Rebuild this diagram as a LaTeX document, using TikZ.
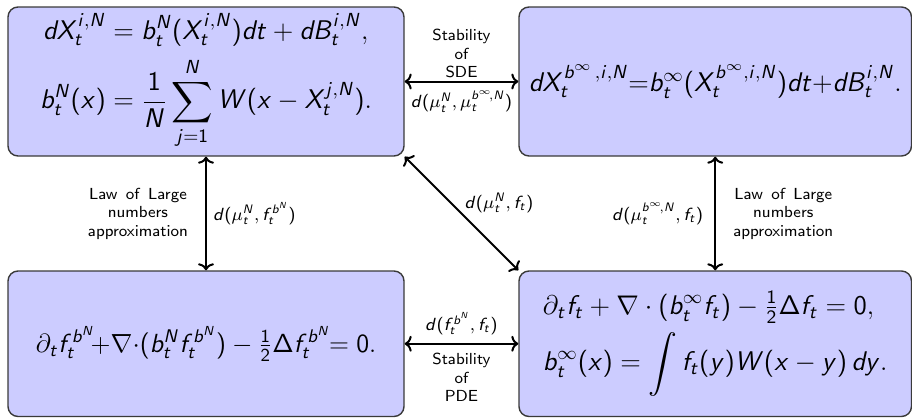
\RequirePackage{fix-cm}
\documentclass[tikz,border=0pt]{standalone}
\usepackage{amsmath}
\usetikzlibrary{arrows.meta}
\SetSymbolFont{operators}{normal}{OT1}{cmss}{m}{n}
\DeclareSymbolFont{sfletters}{OT1}{cmss}{m}{sl}
\makeatletter
\count@=`a
\loop \Umathcode\count@=7 \symsfletters \count@ \advance\count@\@ne \ifnum\count@<`\{ \repeat
\count@=`A
\loop \Umathcode\count@=7 \symsfletters \count@ \advance\count@\@ne \ifnum\count@<`\[ \repeat
\makeatother
\newcommand\sstext{\fontencoding{OT1}\fontfamily{cmss}\fontseries{m}\fontshape{n}\fontsize{8}{9.25}\selectfont}
\newcommand\smath{\fontencoding{OT1}\fontfamily{cmss}\fontseries{m}\fontshape{n}\fontsize{8.8}{10}\selectfont}
\newcommand\widesp{\spaceskip=4.2pt\relax}
\definecolor{boxfill}{HTML}{CCCCFF}
\definecolor{boxline}{HTML}{3A3A3A}
\begin{document}
\begin{tikzpicture}[x=0.5pt,y=-0.5pt,
  box/.style={draw=boxline, line width=0.7pt, fill=boxfill, rounded corners=5pt, inner sep=0pt,
    font=\fontsize{13.5}{16.2}\selectfont},
  conn/.style={line width=1pt, {To[length=3.5pt,width=8pt]}-{To[length=3.5pt,width=8pt]}},
  lbl/.style={font=\sstext, align=center, inner sep=1pt},
  wide/.style={font=\sstext\widesp},
  mlbl/.style={font=\smath, inner sep=1pt},
]
\useasboundingbox (0,0) rectangle (912,418);
\node[box, minimum width=198pt, minimum height=74.5pt] (tl) at (206,81.5)
  {$\begin{aligned}
    dX_t^{i,N} &= b_t^N(X_t^{i,N})dt + dB_t^{i,N},\\
    b_t^N(x) &= \frac{1}{N}\sum_{j=1}^N W(x - X_t^{j,N}).
  \end{aligned}$};
\node[box, minimum width=196.25pt, minimum height=74.5pt] (tr) at (715.25,81.5)
  {$dX_t^{b^\infty\,,i,N}{=}b_t^\infty(X_t^{b^\infty,i,N})dt{+}dB_t^{i,N}.$};
\node[box, minimum width=198pt, minimum height=72.75pt, font=\fontsize{13.1}{15.7}\selectfont] (bl) at (206,343.75)
  {$\partial_t f_t^{b^N}\!{+}\nabla{\cdot}(b_t^N f_t^{b^N}) - \tfrac12\Delta f_t^{b^N}\!\!= 0.$};
\node[box, minimum width=196.25pt, minimum height=72.75pt] (br) at (715.25,343.75)
  {$\begin{aligned}
    &\partial_t f_t + \nabla\cdot(b_t^\infty f_t) - \tfrac12\Delta f_t = 0,\\
    &b_t^\infty(x) = \int f_t(y)W(x-y)\,dy.
  \end{aligned}$};
\draw[conn] (tl.east) --
  node[lbl, above=0.5pt] {Stability\\of\\SDE}
  node[mlbl, below=3pt] {$d(\mu_t^N,\mu_t^{b^\infty\!,N})$} (tr.west);
\draw[conn] (tl.south) --
  node[lbl, wide, left=7.5pt] {Law of Large\\numbers\\approximation}
  node[mlbl, right=2pt] {$d(\mu_t^N, f_t^{b^N})$} (bl.north);
\draw[conn] (tr.south) --
  node[mlbl, left=4.5pt] {$d(\mu_t^{b^\infty\!,N}, f_t)$}
  node[lbl, wide, right=7.5pt] {Law of Large\\numbers\\approximation} (br.north);
\draw[conn] (tl.south east) --
  node[mlbl, pos=0.5, anchor=south west, yshift=-1pt] {$d(\mu_t^N, f_t)$} (br.north west);
\draw[conn] (bl.east) --
  node[mlbl, above=3pt] {$d(f_t^{b^N}, f_t)$}
  node[lbl, below=3.5pt] {Stability\\of\\PDE} (br.west);
\end{tikzpicture}
\end{document}
